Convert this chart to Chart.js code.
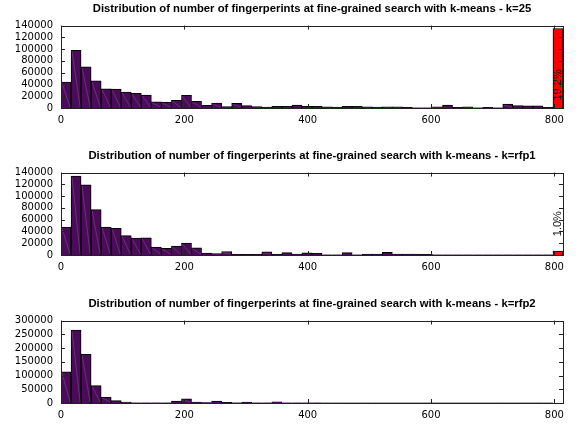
<!DOCTYPE html>
<html>
<head>
<meta charset="UTF-8">
<script src="https://cdn.jsdelivr.net/npm/chart.js@4.4.0/dist/chart.umd.min.js"></script>
<style>
  body { margin: 0; background: #fff; }
  .plot { position: absolute; left: 0; width: 579px; height: 128px; }
</style>
</head>
<body>
<div class="plot" style="top:0px"><canvas id="c1"></canvas></div>
<div class="plot" style="top:147px"><canvas id="c2"></canvas></div>
<div class="plot" style="top:295px"><canvas id="c3"></canvas></div>
<script>
// histogram bins: 50 bins of equal width, last bin is the overflow bin (red)
const binWidth = 16.28;
const xTicks = [0, 200, 400, 600, 800];
const yTicksSmall = [0, 20000, 40000, 60000, 80000, 100000, 120000, 140000];
const yTicksBig = [0, 50000, 100000, 150000, 200000, 250000, 300000];

const titles = [
  'Distribution of number of fingerperints at fine-grained search with k-means - k=25',
  'Distribution of number of fingerperints at fine-grained search with k-means - k=rfp1',
  'Distribution of number of fingerperints at fine-grained search with k-means - k=rfp2'
];

const countsK25 = [44000, 98000, 70000, 46000, 32500, 32000, 27000, 25000, 22000, 10500,
  10000, 13000, 21500, 11500, 4500, 8500, 2200, 8000, 4000, 2500,
  1500, 3000, 3000, 5000, 3000, 3000, 2000, 1500, 3000, 3000,
  2000, 1500, 2000, 2000, 1000, 500, 500, 2000, 5000, 1000,
  2000, 500, 1000, 500, 6500, 4000, 3500, 3500, 1000, 135000];

const countsRfp1 = [47600, 134000, 119000, 77000, 47600, 45400, 33000, 28600, 29000, 13400,
  11200, 15100, 20200, 12300, 3400, 2500, 6000, 1000, 1000, 1000,
  5500, 1000, 4000, 1500, 3500, 3000, 500, 500, 4000, 500,
  1500, 1500, 4500, 1500, 1500, 1500, 1000, 300, 300, 300,
  300, 300, 300, 300, 300, 300, 300, 300, 300, 6500];

const countsRfp2 = [113000, 265000, 177000, 63000, 21700, 8400, 3600, 1000, 1000, 1000,
  1000, 7000, 15000, 3000, 1500, 7000, 2000, 1000, 3000, 1000,
  1000, 4000, 1000, 500, 500, 500, 300, 300, 300, 300,
  300, 300, 300, 300, 300, 300, 300, 300, 300, 300,
  300, 300, 300, 300, 300, 300, 300, 300, 300, 0];

const yTicks = [yTicksSmall, yTicksSmall, yTicksBig];
const overflowLabels = ['19.2%', '1.0%', null];
const labelPos = [0.72, 0.62, 0.6]; // fraction of plot height from top

const purple = '#4a0c58';
const red = '#ff0000';

const framePlugin = {
  id: 'frame',
  afterDatasetsDraw(chart, args, opts) {
    const ctx = chart.ctx;
    const a = chart.chartArea;
    const meta = chart.getDatasetMeta(0);
    ctx.save();
    // faint diagonal hatch line inside each bar
    ctx.strokeStyle = 'rgba(190,140,200,0.55)';
    ctx.lineWidth = 0.5;
    meta.data.forEach((bar, i) => {
      if (i === meta.data.length - 1) return;
      const p = bar.getProps(['x', 'y', 'base', 'width'], true);
      if (p.base - p.y < 3) return;
      ctx.beginPath();
      ctx.moveTo(p.x - p.width / 2 + 1, p.y + 1);
      ctx.lineTo(p.x + p.width / 2 - 1, p.base - 1);
      ctx.stroke();
    });
    // border
    ctx.strokeStyle = '#222';
    ctx.lineWidth = 1;
    ctx.strokeRect(Math.round(a.left) + 0.5, Math.round(a.top) + 0.5,
      Math.round(a.right - a.left), Math.round(a.bottom - a.top));
    // inward ticks, mirrored
    const xs = chart.scales.x, ys = chart.scales.y;
    ctx.beginPath();
    xs.ticks.forEach(t => {
      const px = Math.round(xs.getPixelForValue(t.value)) + 0.5;
      ctx.moveTo(px, a.bottom); ctx.lineTo(px, a.bottom - 4);
      ctx.moveTo(px, a.top); ctx.lineTo(px, a.top + 4);
    });
    ys.ticks.forEach(t => {
      const py = Math.round(ys.getPixelForValue(t.value)) + 0.5;
      ctx.moveTo(a.left, py); ctx.lineTo(a.left + 4, py);
      ctx.moveTo(a.right, py); ctx.lineTo(a.right - 4, py);
    });
    ctx.stroke();
    // overflow percentage label
    if (opts.text) {
      const last = meta.data[meta.data.length - 1];
      const y = a.top + (a.bottom - a.top) * opts.pos;
      ctx.translate(last.x, y);
      ctx.rotate(-Math.PI / 2);
      ctx.fillStyle = '#111';
      ctx.font = '11px "Liberation Sans", Arial, sans-serif';
      ctx.textAlign = 'center';
      ctx.textBaseline = 'middle';
      ctx.fillText(opts.text, 0, 0);
    }
    ctx.restore();
  }
};

function makeChart(id, idx, counts) {
  const points = counts.map((v, i) => ({ x: (i + 0.5) * binWidth, y: v }));
  const colors = counts.map((v, i) => i === counts.length - 1 ? red : purple);
  const yt = yTicks[idx];
  new Chart(document.getElementById(id), {
    type: 'bar',
    data: {
      datasets: [{
        data: points,
        backgroundColor: colors,
        borderColor: '#000',
        borderWidth: 1,
        barPercentage: 1,
        categoryPercentage: 1
      }]
    },
    plugins: [framePlugin],
    options: {
      responsive: true,
      maintainAspectRatio: false,
      animation: false,
      layout: { padding: { left: 0, right: 16, top: 0, bottom: 0 } },
      plugins: {
        legend: { display: false },
        tooltip: { enabled: false },
        title: {
          display: true,
          text: titles[idx],
          fullSize: false,
          color: '#000',
          font: { family: '"Liberation Sans", Arial, sans-serif', size: 11.3, weight: 'bold' },
          padding: { top: 2, bottom: 10 }
        },
        frame: { text: overflowLabels[idx], pos: labelPos[idx] }
      },
      scales: {
        x: {
          type: 'linear',
          min: 0,
          max: binWidth * counts.length,
          offset: false,
          grid: { display: false, drawTicks: false, offset: false },
          border: { display: false },
          afterBuildTicks: s => { s.ticks = xTicks.map(v => ({ value: v })); },
          afterFit: s => { s.height = 20; },
          ticks: {
            padding: 6,
            color: '#000',
            maxRotation: 0,
            autoSkip: false,
            callback: v => String(v),
            font: { family: '"DejaVu Sans", sans-serif', size: 10 }
          }
        },
        y: {
          min: 0,
          max: yt[yt.length - 1],
          grid: { display: false, drawTicks: false },
          border: { display: false },
          afterBuildTicks: s => { s.ticks = yt.map(v => ({ value: v })); },
          afterFit: s => { s.width = 61; },
          ticks: {
            padding: 8,
            color: '#000',
            autoSkip: false,
            callback: v => String(v),
            font: { family: '"DejaVu Sans", sans-serif', size: 10 }
          }
        }
      }
    }
  });
}

makeChart('c1', 0, countsK25);
makeChart('c2', 1, countsRfp1);
makeChart('c3', 2, countsRfp2);
</script>
</body>
</html>
